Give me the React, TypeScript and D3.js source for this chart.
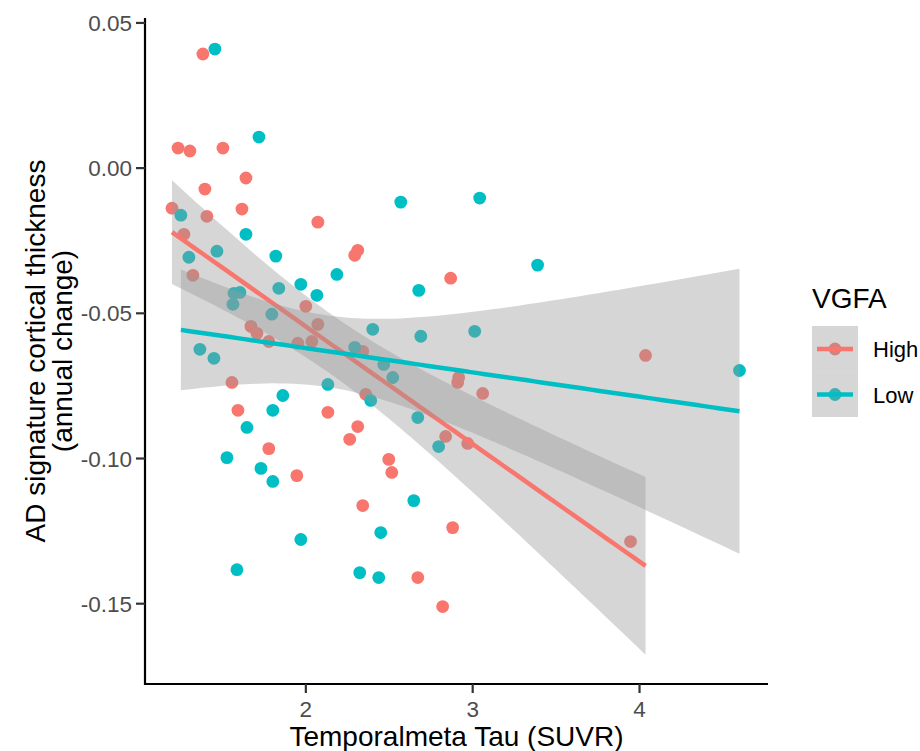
import React from "react";
import * as d3 from "d3";

const highX = [1.198,1.234,1.305,1.383,1.503,1.395,1.407,1.269,1.323,1.617,1.641,2.072,2.0,1.671,1.707,1.778,1.952,2.036,2.072,1.557,1.593,2.132,1.778,1.946,2.293,2.311,2.868,2.341,2.916,2.91,3.06,2.359,2.311,2.263,2.838,2.97,2.497,2.515,2.341,2.88,2.671,2.82,4.036,3.946];
const highY = [-0.0138,0.0069,0.0059,0.0393,0.0069,-0.0072,-0.0166,-0.0228,-0.0369,-0.0141,-0.0034,-0.0186,-0.0476,-0.0545,-0.0569,-0.0597,-0.0603,-0.0597,-0.0538,-0.0738,-0.0834,-0.0841,-0.0966,-0.1059,-0.03,-0.0283,-0.0379,-0.0631,-0.0721,-0.0738,-0.0776,-0.0779,-0.089,-0.0934,-0.0924,-0.0948,-0.1003,-0.1048,-0.1162,-0.1238,-0.141,-0.151,-0.0645,-0.1286];
const lowX = [1.455,1.719,1.251,1.641,1.299,1.467,1.82,1.97,2.186,2.066,1.838,1.605,1.569,1.563,1.796,1.365,1.449,2.132,1.862,1.802,1.647,1.527,1.731,1.802,1.97,1.587,2.569,3.042,2.677,2.401,2.689,3.012,2.293,2.467,2.521,2.389,2.671,2.796,2.647,2.449,2.323,2.437,3.389,4.599];
const lowY = [0.041,0.0107,-0.0162,-0.0228,-0.0307,-0.0286,-0.0303,-0.04,-0.0366,-0.0438,-0.0414,-0.0428,-0.0431,-0.0469,-0.0503,-0.0624,-0.0655,-0.0745,-0.0783,-0.0834,-0.0893,-0.0997,-0.1034,-0.1079,-0.1279,-0.1383,-0.0117,-0.0103,-0.0421,-0.0555,-0.0579,-0.0562,-0.0617,-0.0676,-0.0721,-0.08,-0.0859,-0.0959,-0.1145,-0.1255,-0.1393,-0.141,-0.0334,-0.0697];

const groups = ["High", "Low"];
const colors = ["#F8766D", "#00BFC4"];
const xTicks = [2, 3, 4];
const yTicks = [0.05, 0, -0.05, -0.1, -0.15];

function fit(xs: number[], ys: number[]) {
  const n = xs.length;
  const mx = d3.mean(xs)!;
  const my = d3.mean(ys)!;
  let sxx = 0, sxy = 0;
  xs.forEach((x, i) => { sxx += (x - mx) ** 2; sxy += (x - mx) * (ys[i] - my); });
  const b = sxy / sxx;
  const a = my - b * mx;
  let sse = 0;
  xs.forEach((x, i) => { sse += (ys[i] - a - b * x) ** 2; });
  const s = Math.sqrt(sse / (n - 2));
  const t = 2.018;
  const [x0, x1] = d3.extent(xs) as [number, number];
  const pts = d3.range(80).map((i) => {
    const x = x0 + (x1 - x0) * i / 79;
    const yhat = a + b * x;
    const se = s * Math.sqrt(1 / n + (x - mx) ** 2 / sxx);
    return { x, y: yhat, lo: yhat - t * se, hi: yhat + t * se };
  });
  return pts;
}

export default function App() {
  const W = 920, H = 751;
  const xS = d3.scaleLinear().domain([1.036, 4.77]).range([145, 768]);
  const yS = d3.scaleLinear().domain([-0.178, 0.0517]).range([685, 18]);
  const font = "'Liberation Sans', Arial, sans-serif";
  const data = [
    { xs: highX, ys: highY },
    { xs: lowX, ys: lowY },
  ];
  const fits = data.map((d) => fit(d.xs, d.ys));
  const area = d3.area<any>().x((d) => xS(d.x)).y0((d) => yS(d.lo)).y1((d) => yS(d.hi));
  const line = d3.line<any>().x((d) => xS(d.x)).y((d) => yS(d.y));

  return (
    <svg width={W} height={H} style={{ position: "absolute", left: 0, top: 0, background: "#fff" }}>
      <rect width={W} height={H} fill="#fff" />
      {data.map((d, gi) =>
        d.xs.map((x, i) => (
          <circle key={gi + "-" + i} cx={xS(x)} cy={yS(d.ys[i])} r={6.4} fill={colors[gi]} />
        ))
      )}
      {fits.map((f, gi) => (
        <g key={"f" + gi}>
          <path d={area(f)!} fill="#999999" fillOpacity={0.4} />
          <path d={line(f)!} fill="none" stroke={colors[gi]} strokeWidth={4.5} />
        </g>
      ))}
      {/* axes */}
      <line x1={145} x2={145} y1={18} y2={685} stroke="#000" strokeWidth={2.2} />
      <line x1={144} x2={768} y1={684} y2={684} stroke="#000" strokeWidth={2.2} />
      {yTicks.map((t) => (
        <g key={"y" + t}>
          <line x1={136} x2={145} y1={yS(t)} y2={yS(t)} stroke="#333" strokeWidth={2.2} />
          <text x={132} y={yS(t)} dy="0.36em" textAnchor="end" fontSize={22.5} fill="#4D4D4D" fontFamily={font}>
            {d3.format(".2f")(t).replace("−", "-")}
          </text>
        </g>
      ))}
      {xTicks.map((t) => (
        <g key={"x" + t}>
          <line x1={xS(t)} x2={xS(t)} y1={684} y2={693} stroke="#333" strokeWidth={2.2} />
          <text x={xS(t)} y={717} textAnchor="middle" fontSize={22.5} fill="#4D4D4D" fontFamily={font}>
            {t}
          </text>
        </g>
      ))}
      <text x={456.5} y={746} textAnchor="middle" fontSize={28} fill="#000" fontFamily={font}>
        Temporalmeta Tau (SUVR)
      </text>
      <text transform="translate(45,351) rotate(-90)" textAnchor="middle" fontSize={28} fill="#000" fontFamily={font}>
        AD signature cortical thickness
      </text>
      <text transform="translate(72,351) rotate(-90)" textAnchor="middle" fontSize={28} fill="#000" fontFamily={font}>
        (annual change)
      </text>
      {/* legend */}
      <text x={812} y={308} fontSize={28} fill="#000" fontFamily={font}>VGFA</text>
      {groups.map((g, gi) => {
        const cy = 349 + gi * 45.5;
        return (
          <g key={"l" + g}>
            <circle cx={835} cy={cy} r={6.4} fill={colors[gi]} />
            <rect x={812} y={cy - 23} width={46} height={45.5} fill="#999999" fillOpacity={0.4} />
            <line x1={817} x2={853} y1={cy} y2={cy} stroke={colors[gi]} strokeWidth={4.5} />
            <text x={873} y={cy + 8} fontSize={22} fill="#000" fontFamily={font}>{g}</text>
          </g>
        );
      })}
    </svg>
  );
}
